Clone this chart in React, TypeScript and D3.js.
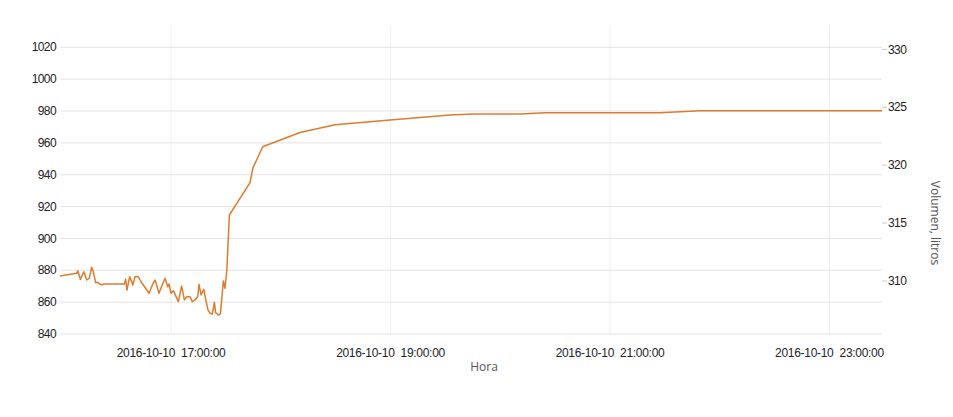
import React from "react";
import * as d3 from "d3";

const times: string[] = [
  "15:59:18","16:08:26","16:09:00","16:09:42","16:10:24","16:12:18","16:13:54","16:15:18","16:16:36","16:17:30",
  "16:18:48","16:19:54","16:21:18","16:22:42","16:23:00","16:34:30","16:35:12","16:35:54","16:37:24","16:39:06",
  "16:40:18","16:42:06","16:43:36","16:48:00","16:50:18","16:51:18","16:52:18","16:53:24","16:55:12","16:56:42",
  "16:58:12","16:58:54","17:00:00","17:01:18","17:04:00","17:05:48","17:07:18","17:08:36","17:10:24","17:11:36",
  "17:13:06","17:14:36","17:15:18","17:16:24","17:17:54","17:18:36","17:20:06","17:21:18","17:22:36","17:23:42",
  "17:24:24","17:25:54","17:27:00","17:28:36","17:29:30","17:30:30","17:31:54","17:43:12","17:44:42","17:50:06",
  "18:10:30","18:29:42","18:59:42","19:32:30","19:45:18","20:10:48","20:24:30","21:27:18","21:49:12","23:28:42",
];
const values: number[] = [
  876.4,878.1,879.7,877.1,874.3,879.1,873.9,875.0,881.9,879.1,
  872.2,872.5,871.2,870.8,871.4,871.4,874.3,867.6,876.0,870.8,
  876.0,876.0,872.8,865.6,872.2,873.9,870.1,865.6,870.8,875.0,
  869.7,871.4,865.6,867.2,860.3,870.1,861.4,863.4,863.4,860.3,
  861.4,863.4,871.2,864.5,868.1,863.9,855.5,853.0,852.6,859.9,
  853.4,851.9,852.6,873.3,868.7,880.2,914.7,935.0,944.0,957.6,
  966.5,971.4,974.4,977.5,978.1,978.1,978.9,978.9,980.2,980.2,
];
const leftTicks: number[] = [840, 860, 880, 900, 920, 940, 960, 980, 1000, 1020];
const rightTicks: number[] = [310, 315, 320, 325, 330];
const xTickTimes: string[] = ["17:00:00", "19:00:00", "21:00:00", "23:00:00"];
const xTickLabels: string[] = ["2016-10-10  17:00:00", "2016-10-10  19:00:00", "2016-10-10  21:00:00", "2016-10-10  23:00:00"];
const xTitle = "Hora";
const rightTitle = "Volumen, litros";

const W = 953, H = 417;
const M = { left: 60, right: 882, top: 25, bottom: 334 };

export default function App() {
  const parse = d3.timeParse("%Y-%m-%d %H:%M:%S");
  const data = times.map((t, i) => ({ t: parse("2016-10-10 " + t)!, v: values[i] }));
  const x = d3.scaleTime().domain(d3.extent(data, d => d.t) as [Date, Date]).range([M.left, M.right]);
  const y = d3.scaleLinear().domain([840, 1034]).range([M.bottom, M.top]);
  const yR = d3.scaleLinear().domain([305.42, 332.1]).range([M.bottom, M.top]);
  const line = d3.line<{ t: Date; v: number }>().x(d => x(d.t)).y(d => y(d.v));
  const xt = xTickTimes.map(s => parse("2016-10-10 " + s)!);
  const font = "'Liberation Sans', Arial, sans-serif";
  return (
    <svg width={W} height={H} style={{ position: "absolute", left: 0, top: 0 }}>
      <rect width={W} height={H} fill="#fff" />
      {xt.map((d, i) => (
        <line key={"vg" + i} x1={x(d)} x2={x(d)} y1={M.top} y2={M.bottom} stroke="#f0f0f0" strokeWidth={1} />
      ))}
      {leftTicks.map(v => (
        <line key={"hg" + v} x1={M.left} x2={M.right} y1={y(v)} y2={y(v)} stroke="#e3e3e3" strokeWidth={1} />
      ))}
      {leftTicks.map(v => (
        <text key={"lt" + v} x={56} y={y(v)} dy="0.35em" textAnchor="end" fontFamily={font} fontSize={12} letterSpacing={-0.6} fill="#222">{v}</text>
      ))}
      {rightTicks.map(v => (
        <g key={"rt" + v}>
          <line x1={M.right} x2={M.right + 5} y1={yR(v)} y2={yR(v)} stroke="#ccc" strokeWidth={1} />
          <text x={888} y={yR(v)} dy="0.35em" textAnchor="start" fontFamily={font} fontSize={12} letterSpacing={-0.6} fill="#222">{v}</text>
        </g>
      ))}
      {xt.map((d, i) => (
        <text key={"xt" + i} x={x(d)} y={356.5} textAnchor="middle" fontFamily={font} fontSize={12} letterSpacing={-0.3} fill="#222" style={{ whiteSpace: "pre" }}>{xTickLabels[i]}</text>
      ))}
      <text x={484} y={371} textAnchor="middle" fontFamily="'Open Sans', sans-serif" fontSize={12} fill="#555">{xTitle}</text>
      <text transform={`translate(931,223) rotate(90)`} textAnchor="middle" fontFamily="'Open Sans', sans-serif" fontSize={12} fill="#555">{rightTitle}</text>
      <path d={line(data) || ""} fill="none" stroke="#e07b2c" strokeWidth={1.5} strokeLinejoin="round" />
    </svg>
  );
}
